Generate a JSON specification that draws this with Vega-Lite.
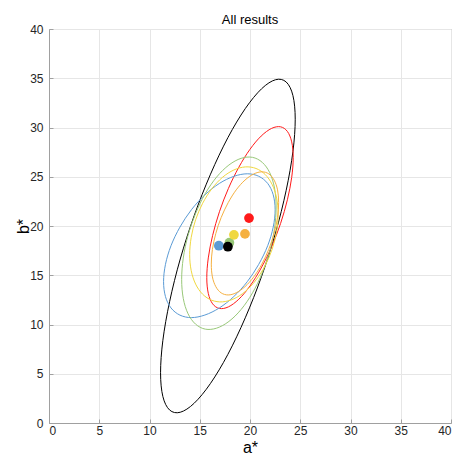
{
  "$schema": "https://vega.github.io/schema/vega-lite/v6.json",
  "width": 402,
  "height": 394,
  "autosize": {"type": "none"},
  "padding": {"left": 49, "top": 29, "right": 6, "bottom": 40},
  "background": "white",
  "title": {"text": "All results", "fontSize": 13, "font": "Liberation Sans", "fontWeight": "normal", "color": "#000000", "offset": -4, "anchor": "middle"},
  "config": {
    "view": {"stroke": "#a0a0a0", "strokeWidth": 1},
    "font": "Liberation Sans",
    "axis": {
      "domainColor": "#a0a0a0",
      "tickColor": "#a0a0a0",
      "gridColor": "#e6e6e6",
      "labelColor": "#262626",
      "labelFontSize": 12,
      "titleColor": "#000000",
      "titleFontSize": 16,
      "titleFontWeight": "normal",
      "tickSize": -4
    }
  },
  "datasets": {
    "ell": [
      {"g":"black","i":0,"x":24.50,"y":30.84},{"g":"black","i":1,"x":24.27,"y":33.25},{"g":"black","i":2,"x":23.60,"y":34.62},{"g":"black","i":3,"x":22.54,"y":34.85},{"g":"black","i":4,"x":21.15,"y":33.93},{"g":"black","i":5,"x":19.53,"y":31.92},{"g":"black","i":6,"x":17.80,"y":28.97},{"g":"black","i":7,"x":16.07,"y":25.26},{"g":"black","i":8,"x":14.45,"y":21.06},{"g":"black","i":9,"x":13.06,"y":16.65},{"g":"black","i":10,"x":12.00,"y":12.32},{"g":"black","i":11,"x":11.33,"y":8.39},{"g":"black","i":12,"x":11.10,"y":5.10},{"g":"black","i":13,"x":11.33,"y":2.69},{"g":"black","i":14,"x":12.00,"y":1.32},{"g":"black","i":15,"x":13.06,"y":1.09},{"g":"black","i":16,"x":14.45,"y":2.01},{"g":"black","i":17,"x":16.07,"y":4.02},{"g":"black","i":18,"x":17.80,"y":6.97},{"g":"black","i":19,"x":19.53,"y":10.68},{"g":"black","i":20,"x":21.15,"y":14.88},{"g":"black","i":21,"x":22.54,"y":19.29},{"g":"black","i":22,"x":23.60,"y":23.62},{"g":"black","i":23,"x":24.27,"y":27.55},
      {"g":"red","i":0,"x":24.30,"y":26.95},{"g":"red","i":1,"x":24.15,"y":28.54},{"g":"red","i":2,"x":23.72,"y":29.60},{"g":"red","i":3,"x":23.04,"y":30.07},{"g":"red","i":4,"x":22.15,"y":29.91},{"g":"red","i":5,"x":21.11,"y":29.13},{"g":"red","i":6,"x":20.00,"y":27.79},{"g":"red","i":7,"x":18.89,"y":25.97},{"g":"red","i":8,"x":17.85,"y":23.81},{"g":"red","i":9,"x":16.96,"y":21.45},{"g":"red","i":10,"x":16.28,"y":19.04},{"g":"red","i":11,"x":15.85,"y":16.76},{"g":"red","i":12,"x":15.70,"y":14.75},{"g":"red","i":13,"x":15.85,"y":13.16},{"g":"red","i":14,"x":16.28,"y":12.10},{"g":"red","i":15,"x":16.96,"y":11.63},{"g":"red","i":16,"x":17.85,"y":11.79},{"g":"red","i":17,"x":18.89,"y":12.57},{"g":"red","i":18,"x":20.00,"y":13.91},{"g":"red","i":19,"x":21.11,"y":15.73},{"g":"red","i":20,"x":22.15,"y":17.89},{"g":"red","i":21,"x":23.04,"y":20.25},{"g":"red","i":22,"x":23.72,"y":22.66},{"g":"red","i":23,"x":24.15,"y":24.94},
      {"g":"blue","i":0,"x":22.50,"y":21.65},{"g":"blue","i":1,"x":22.31,"y":23.17},{"g":"blue","i":2,"x":21.76,"y":24.32},{"g":"blue","i":3,"x":20.87,"y":25.05},{"g":"blue","i":4,"x":19.73,"y":25.30},{"g":"blue","i":5,"x":18.39,"y":25.04},{"g":"blue","i":6,"x":16.95,"y":24.32},{"g":"blue","i":7,"x":15.51,"y":23.16},{"g":"blue","i":8,"x":14.17,"y":21.65},{"g":"blue","i":9,"x":13.03,"y":19.89},{"g":"blue","i":10,"x":12.14,"y":18.00},{"g":"blue","i":11,"x":11.59,"y":16.11},{"g":"blue","i":12,"x":11.40,"y":14.35},{"g":"blue","i":13,"x":11.59,"y":12.83},{"g":"blue","i":14,"x":12.14,"y":11.68},{"g":"blue","i":15,"x":13.03,"y":10.95},{"g":"blue","i":16,"x":14.17,"y":10.70},{"g":"blue","i":17,"x":15.51,"y":10.96},{"g":"blue","i":18,"x":16.95,"y":11.68},{"g":"blue","i":19,"x":18.39,"y":12.84},{"g":"blue","i":20,"x":19.73,"y":14.35},{"g":"blue","i":21,"x":20.87,"y":16.11},{"g":"blue","i":22,"x":21.76,"y":18.00},{"g":"blue","i":23,"x":22.31,"y":19.89},
      {"g":"green","i":0,"x":22.60,"y":21.93},{"g":"green","i":1,"x":22.44,"y":23.85},{"g":"green","i":2,"x":21.97,"y":25.40},{"g":"green","i":3,"x":21.22,"y":26.46},{"g":"green","i":4,"x":20.25,"y":26.97},{"g":"green","i":5,"x":19.12,"y":26.87},{"g":"green","i":6,"x":17.90,"y":26.19},{"g":"green","i":7,"x":16.68,"y":24.97},{"g":"green","i":8,"x":15.55,"y":23.29},{"g":"green","i":9,"x":14.58,"y":21.26},{"g":"green","i":10,"x":13.83,"y":19.04},{"g":"green","i":11,"x":13.36,"y":16.75},{"g":"green","i":12,"x":13.20,"y":14.58},{"g":"green","i":13,"x":13.36,"y":12.65},{"g":"green","i":14,"x":13.83,"y":11.10},{"g":"green","i":15,"x":14.58,"y":10.04},{"g":"green","i":16,"x":15.55,"y":9.53},{"g":"green","i":17,"x":16.68,"y":9.63},{"g":"green","i":18,"x":17.90,"y":10.31},{"g":"green","i":19,"x":19.12,"y":11.53},{"g":"green","i":20,"x":20.25,"y":13.21},{"g":"green","i":21,"x":21.22,"y":15.24},{"g":"green","i":22,"x":21.97,"y":17.46},{"g":"green","i":23,"x":22.44,"y":19.75},
      {"g":"yellow","i":0,"x":22.80,"y":21.21},{"g":"yellow","i":1,"x":22.65,"y":22.83},{"g":"yellow","i":2,"x":22.21,"y":24.20},{"g":"yellow","i":3,"x":21.51,"y":25.23},{"g":"yellow","i":4,"x":20.60,"y":25.84},{"g":"yellow","i":5,"x":19.54,"y":26.00},{"g":"yellow","i":6,"x":18.40,"y":25.69},{"g":"yellow","i":7,"x":17.26,"y":24.94},{"g":"yellow","i":8,"x":16.20,"y":23.78},{"g":"yellow","i":9,"x":15.29,"y":22.31},{"g":"yellow","i":10,"x":14.59,"y":20.64},{"g":"yellow","i":11,"x":14.15,"y":18.85},{"g":"yellow","i":12,"x":14.00,"y":17.09},{"g":"yellow","i":13,"x":14.15,"y":15.47},{"g":"yellow","i":14,"x":14.59,"y":14.10},{"g":"yellow","i":15,"x":15.29,"y":13.07},{"g":"yellow","i":16,"x":16.20,"y":12.46},{"g":"yellow","i":17,"x":17.26,"y":12.30},{"g":"yellow","i":18,"x":18.40,"y":12.61},{"g":"yellow","i":19,"x":19.54,"y":13.36},{"g":"yellow","i":20,"x":20.60,"y":14.52},{"g":"yellow","i":21,"x":21.51,"y":15.99},{"g":"yellow","i":22,"x":22.21,"y":17.66},{"g":"yellow","i":23,"x":22.65,"y":19.45},
      {"g":"orange","i":0,"x":22.85,"y":22.38},{"g":"orange","i":1,"x":22.74,"y":23.67},{"g":"orange","i":2,"x":22.40,"y":24.66},{"g":"orange","i":3,"x":21.87,"y":25.29},{"g":"orange","i":4,"x":21.18,"y":25.50},{"g":"orange","i":5,"x":20.37,"y":25.28},{"g":"orange","i":6,"x":19.50,"y":24.66},{"g":"orange","i":7,"x":18.63,"y":23.67},{"g":"orange","i":8,"x":17.83,"y":22.37},{"g":"orange","i":9,"x":17.13,"y":20.86},{"g":"orange","i":10,"x":16.60,"y":19.25},{"g":"orange","i":11,"x":16.26,"y":17.63},{"g":"orange","i":12,"x":16.15,"y":16.13},{"g":"orange","i":13,"x":16.26,"y":14.83},{"g":"orange","i":14,"x":16.60,"y":13.84},{"g":"orange","i":15,"x":17.13,"y":13.21},{"g":"orange","i":16,"x":17.83,"y":13.00},{"g":"orange","i":17,"x":18.63,"y":13.22},{"g":"orange","i":18,"x":19.50,"y":13.84},{"g":"orange","i":19,"x":20.37,"y":14.83},{"g":"orange","i":20,"x":21.18,"y":16.13},{"g":"orange","i":21,"x":21.87,"y":17.64},{"g":"orange","i":22,"x":22.40,"y":19.25},{"g":"orange","i":23,"x":22.74,"y":20.87}
    ],
    "ctr": [
      {"g":"blue","o":1,"x":16.9,"y":18.0},
      {"g":"green","o":2,"x":17.95,"y":18.3},
      {"g":"yellow","o":3,"x":18.4,"y":19.1},
      {"g":"orange","o":4,"x":19.5,"y":19.2},
      {"g":"red","o":5,"x":19.9,"y":20.8},
      {"g":"black","o":6,"x":17.8,"y":17.9}
    ]
  },
  "encoding": {
    "x": {"field": "x", "type": "quantitative", "scale": {"domain": [0, 40], "nice": false, "zero": false},
      "axis": {"title": "a*", "values": [0,5,10,15,20,25,30,35,40], "labelPadding": 6, "titlePadding": 3}},
    "y": {"field": "y", "type": "quantitative", "scale": {"domain": [0, 40], "nice": false, "zero": false},
      "axis": {"title": "b*", "values": [0,5,10,15,20,25,30,35,40], "labelPadding": 10, "titlePadding": -2}},
    "color": {"field": "g", "type": "nominal", "legend": null,
      "scale": {"domain": ["black","red","blue","green","yellow","orange"], "range": ["#000000","#ff1a1a","#5b9bd5","#98c878","#f0d840","#f5b040"]}}
  },
  "layer": [
    {"data": {"name": "ell"}, "mark": {"type": "line", "interpolate": "cardinal-closed", "strokeWidth": 1},
      "encoding": {"detail": {"field": "g"}, "order": {"field": "i", "type": "quantitative"}}},
    {"data": {"name": "ctr"}, "mark": {"type": "point", "filled": true, "opacity": 1, "size": 95},
      "encoding": {"order": {"field": "o", "type": "quantitative"},
        "color": {"field": "g", "type": "nominal", "legend": null,
          "scale": {"domain": ["black","red","blue","green","yellow","orange"], "range": ["#000000","#ff0000","#4a90d9","#6fb33a","#d7dc00","#ff9500"]}}}}
  ]
}
